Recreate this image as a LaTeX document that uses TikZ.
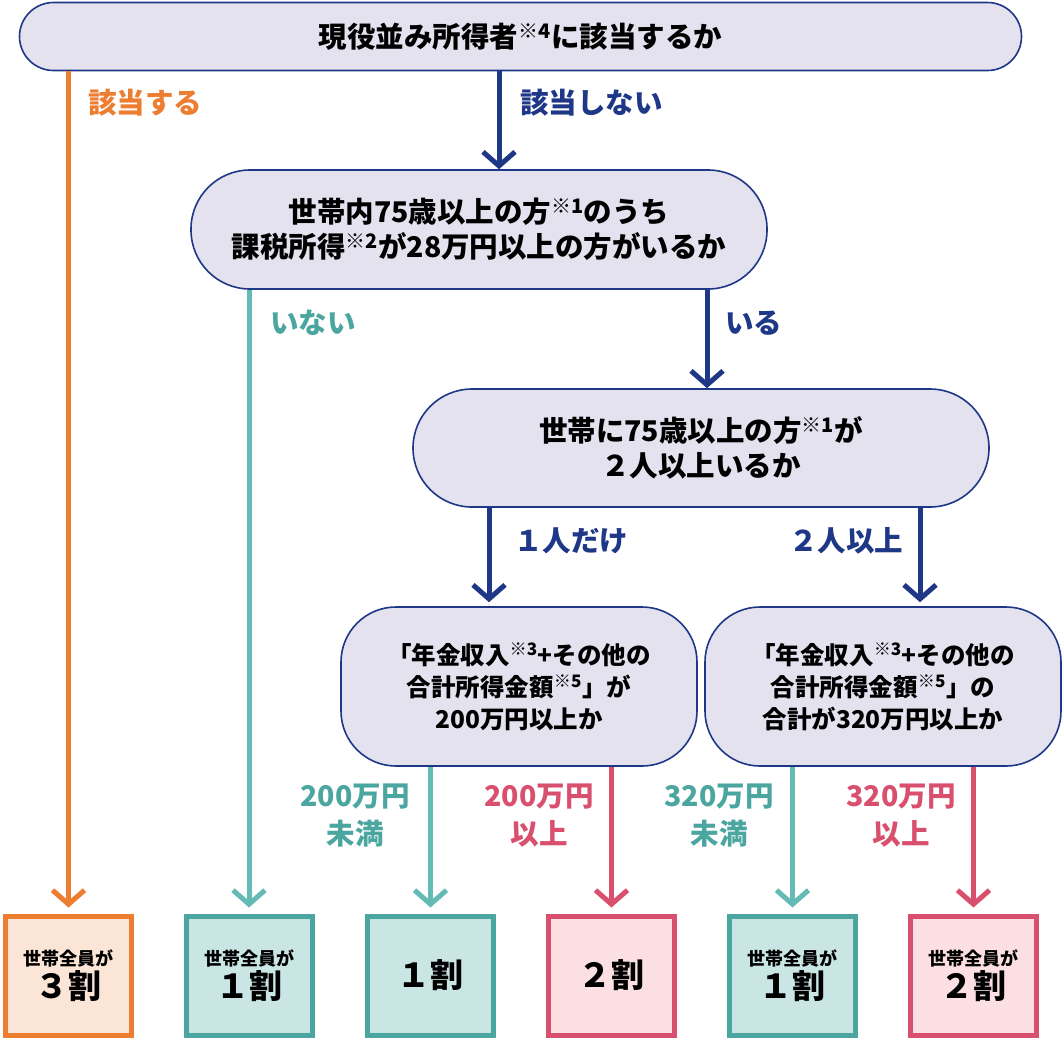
\documentclass[tikz,border=0pt]{standalone}
\usepackage{fontspec}
\setmainfont{Noto Sans CJK JP}
\usetikzlibrary{arrows.meta,positioning}

\definecolor{navy}{RGB}{30,55,135}
\definecolor{lav}{RGB}{227,226,238}
\definecolor{orng}{RGB}{237,125,49}
\definecolor{orngfill}{RGB}{251,229,214}
\definecolor{tealline}{RGB}{100,186,180}
\definecolor{tealdark}{RGB}{76,166,160}
\definecolor{tealfill}{RGB}{201,230,229}
\definecolor{pnk}{RGB}{217,80,110}
\definecolor{pnkfill}{RGB}{252,223,227}

\begin{document}
\begin{tikzpicture}[
    x=1pt, y=-1pt,
    qbox/.style={rectangle, draw=navy, line width=1.6pt, fill=lav, align=center, inner sep=0pt, font=\bfseries\fontsize{28.5}{35}\selectfont},
    sbox/.style={qbox, minimum width=356pt, minimum height=159pt, rounded corners=55pt, font=\bfseries\fontsize{24.5}{32}\selectfont},
    res/.style={rectangle, line width=5pt, minimum width=126pt, minimum height=119pt, align=center, inner sep=0pt},
    lbl/.style={inner sep=0pt, align=center, font=\bfseries\fontsize{28.5}{38}\selectfont},
    arrow/.style={-{Straight Barb[length=14pt,width=32pt]}, line width=5pt}
]
    \useasboundingbox (0,0) rectangle (1062,1039);

    % questions
    \node[qbox, minimum width=1002pt, minimum height=68pt, rounded corners=34pt] (q1) at (520.5,36.5) {現役並み所得者\textsuperscript{※4}に該当するか};
    \node[qbox, minimum width=576pt, minimum height=119pt, rounded corners=59pt] (q2) at (479,229.5) {世帯内75歳以上の方\textsuperscript{※1}のうち\\課税所得\textsuperscript{※2}が28万円以上の方がいるか};
    \node[qbox, minimum width=576pt, minimum height=118pt, rounded corners=59pt] (q3) at (701,448) {世帯に75歳以上の方\textsuperscript{※1}が\\２人以上いるか};
    \node[sbox] (q4) at (519,686.5) {「年金収入\textsuperscript{※3}+その他の\\合計所得金額\textsuperscript{※5}」が\\200万円以上か};
    \node[sbox] (q5) at (883,686.5) {「年金収入\textsuperscript{※3}+その他の\\合計所得金額\textsuperscript{※5}」の\\合計が320万円以上か};

    % results
    \node[res, draw=orng, fill=orngfill] (r1) at (68.5,975.5) {{\bfseries\fontsize{18}{22}\selectfont 世帯全員が}\\[2pt]{\bfseries\fontsize{33}{38}\selectfont ３割}};
    \node[res, draw=tealdark, fill=tealfill] (r2) at (249,975.5) {{\bfseries\fontsize{18}{22}\selectfont 世帯全員が}\\[2pt]{\bfseries\fontsize{33}{38}\selectfont １割}};
    \node[res, draw=tealdark, fill=tealfill] (r3) at (430.5,975.5) {{\bfseries\fontsize{33}{38}\selectfont １割}};
    \node[res, draw=pnk, fill=pnkfill] (r4) at (611.5,975.5) {{\bfseries\fontsize{33}{38}\selectfont ２割}};
    \node[res, draw=tealdark, fill=tealfill] (r5) at (792.5,975.5) {{\bfseries\fontsize{18}{22}\selectfont 世帯全員が}\\[2pt]{\bfseries\fontsize{33}{38}\selectfont １割}};
    \node[res, draw=pnk, fill=pnkfill] (r6) at (973.5,975.5) {{\bfseries\fontsize{18}{22}\selectfont 世帯全員が}\\[2pt]{\bfseries\fontsize{33}{38}\selectfont ２割}};

    % connectors
    \draw[arrow, orng] (r1.north |- q1.south) -- ([yshift=6pt]r1.north);
    \draw[arrow, navy] ([xshift=20pt]q2.north |- q1.south) -- ([xshift=20pt]q2.north);
    \draw[arrow, tealline] (r2.north |- q2.south) -- ([yshift=6pt]r2.north);
    \draw[arrow, navy] ([xshift=6pt]q3.north |- q2.south) -- ([xshift=6pt]q3.north);
    \draw[arrow, navy] ([xshift=-30pt]q4.north |- q3.south) -- ([xshift=-30pt,yshift=4pt]q4.north);
    \draw[arrow, navy] ([xshift=37pt]q5.north |- q3.south) -- ([xshift=37pt,yshift=4pt]q5.north);
    \draw[arrow, tealline] (r3.north |- q4.south) -- ([yshift=6pt]r3.north);
    \draw[arrow, pnk] (r4.north |- q4.south) -- ([yshift=6pt]r4.north);
    \draw[arrow, tealline] (r5.north |- q5.south) -- ([yshift=6pt]r5.north);
    \draw[arrow, pnk] (r6.north |- q5.south) -- ([yshift=6pt]r6.north);

    % labels
    \node[lbl, orng, anchor=west] (yes1) at (88,103) {該当する};
    \node[lbl, navy, anchor=west] (no1) at (520,103) {該当しない};
    \node[lbl, tealdark, anchor=west] (no2) at (270,323) {いない};
    \node[lbl, navy, anchor=west] (yes2) at (725,323) {いる};
    \node[lbl, navy, anchor=west] (one) at (514,541) {１人だけ};
    \node[lbl, navy, anchor=west] (two) at (789,541) {２人以上};
    \node[lbl, tealdark] (lo200) at (355,816) {200万円\\未満};
    \node[lbl, pnk] (hi200) at (539,816) {200万円\\以上};
    \node[lbl, tealdark] (lo320) at (719,816) {320万円\\未満};
    \node[lbl, pnk] (hi320) at (901,816) {320万円\\以上};
\end{tikzpicture}
\end{document}
